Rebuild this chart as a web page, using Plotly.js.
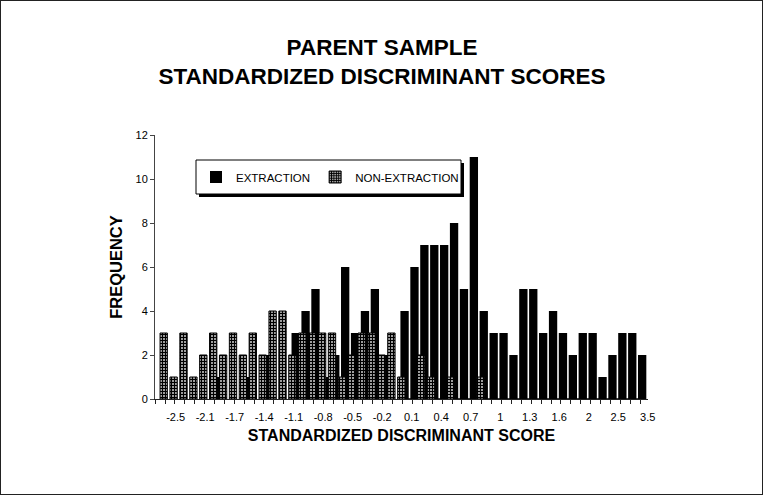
<!DOCTYPE html>
<html>
<head>
<meta charset="utf-8">
<script src="https://cdn.plot.ly/plotly-3.0.1.min.js"></script>
<style>
  html, body { margin: 0; padding: 0; background: #fff; }
  #wrap { position: relative; width: 764px; height: 496px; }
  #frame { position: absolute; left: 0; top: 0; width: 761px; height: 493px;
           border: 1.5px solid #222; pointer-events: none; }
</style>
</head>
<body>
<div id="wrap">
  <div id="chart" style="width:764px;height:496px;"></div>
  <div id="frame"></div>
</div>
<script>
// bin frequencies (49 bins, left to right)
const extraction = [
    0, 0, 0, 0, 0, 1, 0, 0, 1, 0,
    2, 0, 0, 3, 4, 5, 1, 2, 6, 3,
    4, 5, 2, 0, 4, 6, 7, 7, 7, 8,
    5, 11, 4, 3, 3, 2, 5, 5, 3, 4,
    3, 2, 3, 3, 1, 2, 3, 3, 2
];
const nonExtraction = [
    3, 1, 3, 1, 2, 3, 2, 3, 2, 3,
    2, 4, 4, 2, 3, 3, 3, 3, 1, 2,
    3, 3, 2, 3, 1, 0, 2, 1, 0, 1,
    0, 0, 1, 0, 0, 0, 0, 0, 0, 0,
    0, 0, 0, 0, 0, 0, 0, 0, 0
];
// category labels, printed on every third bin
const tickLabels = ['-2.5', '-2.1', '-1.7', '-1.4', '-1.1', '-0.8', '-0.5', '-0.2',
    '0.1', '0.4', '0.7', '1', '1.3', '1.6', '2', '2.5', '3.5'];

const bins = extraction.map((_, i) => i);
const tickPos = tickLabels.map((_, j) => 0.88 + 2.98 * j);

const font = 'Arial, "Liberation Sans", sans-serif';

// plot area in px, used to place the legend frame
const plotL = 155, plotR = 648, plotT = 135, plotB = 399;
const px = x => (x - plotL) / (plotR - plotL);
const py = y => (plotB - y) / (plotB - plotT);

const traceExt = {
    type: 'bar',
    name: 'EXTRACTION',
    x: bins,
    y: extraction,
    width: 0.84,
    offset: -0.42,
    marker: { color: '#000', line: { width: 0 } },
    hoverinfo: 'x+y',
};
const traceNon = {
    type: 'bar',
    name: 'NON-EXTRACTION',
    x: bins,
    y: nonExtraction,
    width: 0.74,
    offset: -0.7,
    marker: {
        color: '#fff',
        line: { color: '#000', width: 1 },
        pattern: { shape: '+', fgcolor: '#000', bgcolor: '#fff', size: 3, solidity: 0.7 },
    },
    hoverinfo: 'x+y',
};

const legBox = { x0: 196, x1: 461, y0: 160, y1: 194 };

const layout = {
    width: 764,
    height: 496,
    margin: { l: plotL, r: 764 - plotR, t: plotT, b: 496 - plotB },
    paper_bgcolor: '#fff',
    plot_bgcolor: '#fff',
    font: { family: font, color: '#000' },
    title: {
        text: 'PARENT SAMPLE<br>STANDARDIZED DISCRIMINANT SCORES',
        font: { size: 22.5, weight: 'bold', color: '#000' },
        x: 0.5,
        xanchor: 'center',
        y: 1 - 55 / 496,
        yanchor: 'middle',
        yref: 'container',
    },
    barmode: 'overlay',
    showlegend: true,
    legend: {
        orientation: 'h',
        x: px(legBox.x0),
        xanchor: 'left',
        y: py((legBox.y0 + legBox.y1) / 2),
        yanchor: 'middle',
        bgcolor: 'rgba(0,0,0,0)',
        borderwidth: 0,
        font: { size: 11.5, color: '#000' },
        itemwidth: 30,
        traceorder: 'normal',
    },
    shapes: [
        // legend drop shadow and frame
        { type: 'rect', xref: 'paper', yref: 'paper', layer: 'above',
          x0: px(legBox.x0 + 3), x1: px(legBox.x1 + 3), y0: py(legBox.y1 + 3), y1: py(legBox.y0 + 3),
          fillcolor: '#000', line: { width: 0 } },
        { type: 'rect', xref: 'paper', yref: 'paper', layer: 'above',
          x0: px(legBox.x0), x1: px(legBox.x1), y0: py(legBox.y1), y1: py(legBox.y0),
          fillcolor: '#fff', line: { color: '#000', width: 1 } },
    ],
    xaxis: {
        range: [-1.21, 48.59],
        showgrid: false,
        zeroline: false,
        showline: true,
        linecolor: '#222',
        linewidth: 1,
        tickmode: 'array',
        tickvals: tickPos,
        ticktext: tickLabels,
        ticks: '',
        ticklabelstandoff: 8,
        tickfont: { size: 11, color: '#000' },
        minor: { tickmode: 'linear', tick0: -0.2, dtick: 1, ticks: 'outside', ticklen: 4,
                 tickcolor: '#222', tickwidth: 1, showgrid: false },
        title: { text: 'STANDARDIZED DISCRIMINANT SCORE', font: { size: 16, weight: 'bold' }, standoff: 7 },
        fixedrange: true,
    },
    yaxis: {
        range: [0, 12],
        tick0: 0,
        dtick: 2,
        showgrid: false,
        zeroline: false,
        showline: true,
        linecolor: '#444',
        linewidth: 1,
        ticks: 'outside',
        ticklen: 4,
        tickcolor: '#444',
        tickfont: { size: 11, color: '#000' },
        title: { text: 'FREQUENCY', font: { size: 16.5, weight: 'bold' }, standoff: 8 },
        fixedrange: true,
    },
};

Plotly.newPlot('chart', [traceExt, traceNon], layout, { displayModeBar: false, responsive: false });
</script>
</body>
</html>
